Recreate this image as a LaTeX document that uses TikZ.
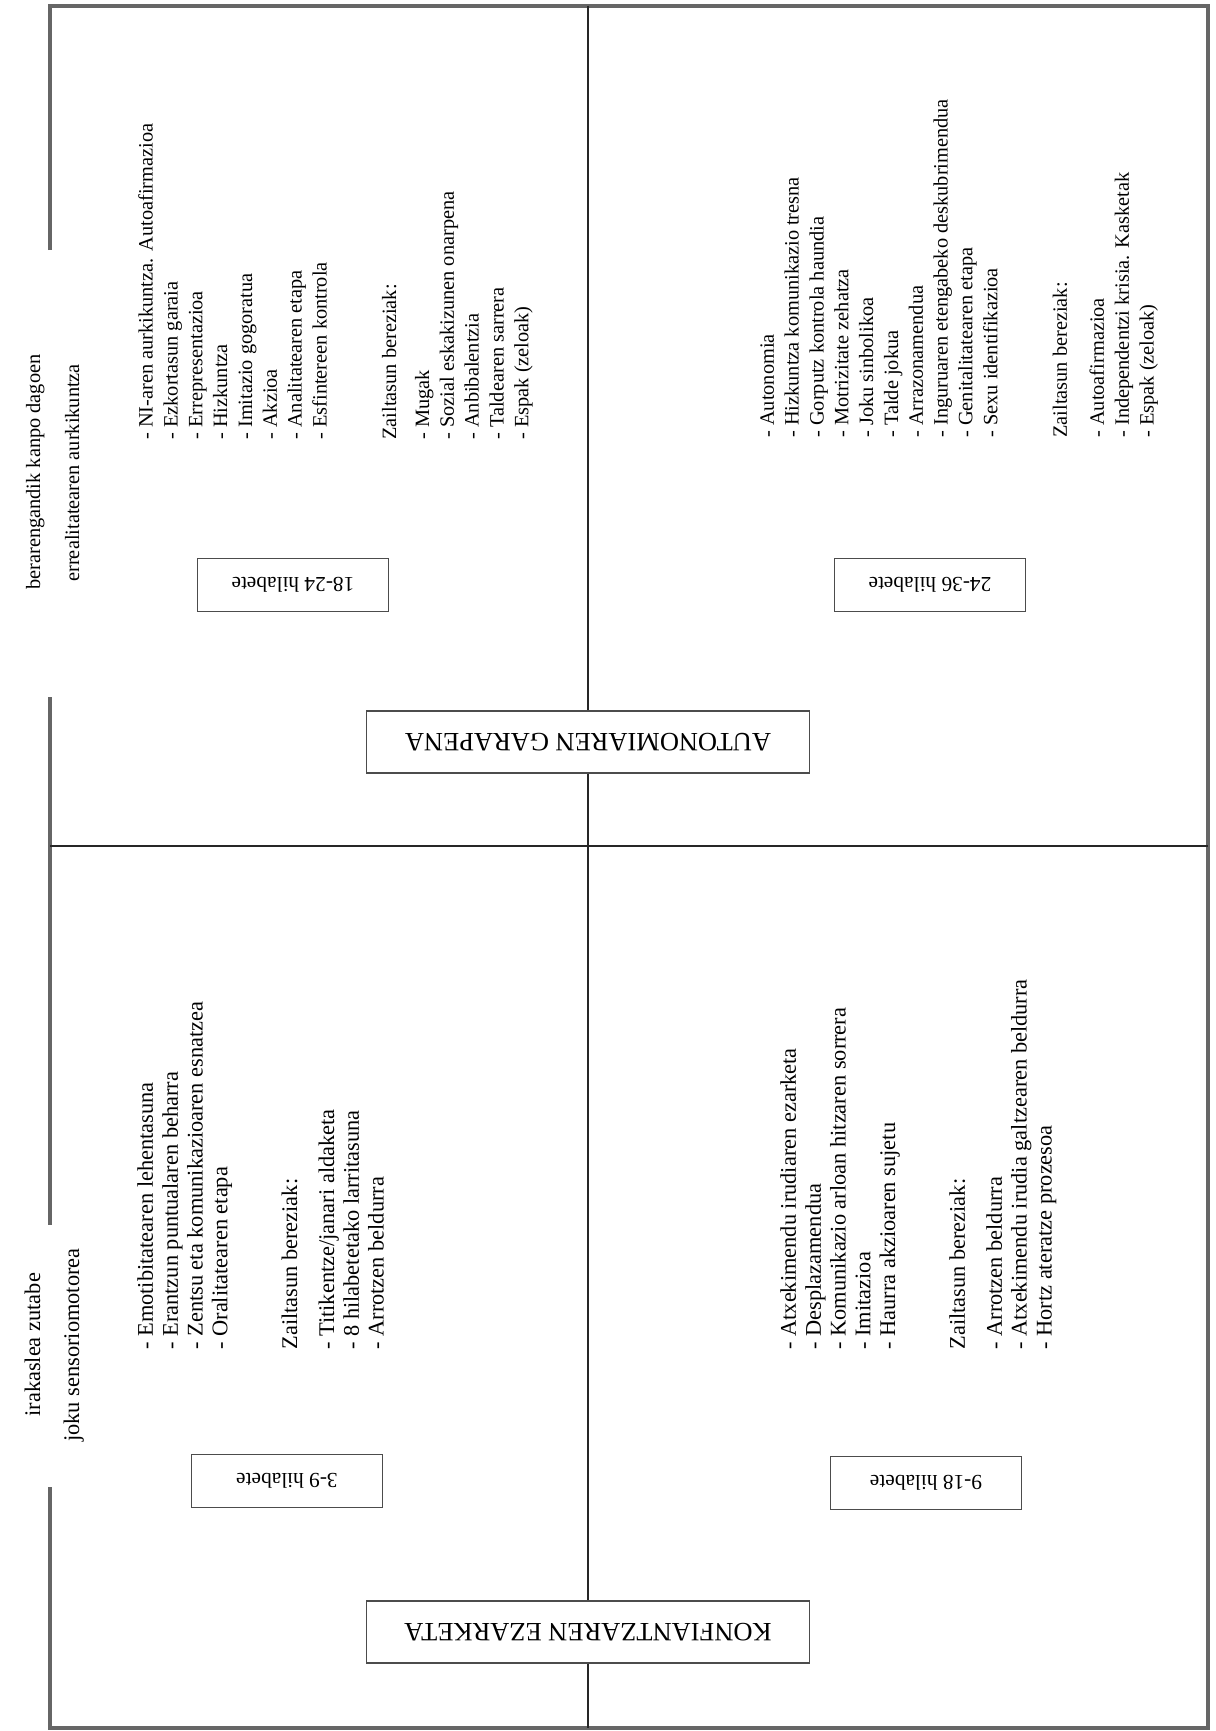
\documentclass[tikz,border=0pt]{standalone}
\usepackage{fontspec}
\setmainfont{Liberation Serif}
\begin{document}
\begin{tikzpicture}[x=0.01728cm,y=-0.01728cm]
  % Estilos para marco, cajas y listas
  \tikzset{
    frame_line/.style={line width=2.2pt,draw=black!60},
    split_line/.style={line width=0.9pt,draw=black!85},
    age_box/.style={draw=black!70,line width=0.5pt,fill=white,rotate=180,minimum width=94pt,minimum height=26.5pt,font=\fontsize{10.5}{12}\selectfont},
    title_box/.style={draw=black!70,line width=0.6pt,fill=white,rotate=180,minimum width=218pt,minimum height=30.5pt,font=\fontsize{13}{15}\selectfont},
    item_list/.style={rotate=90,anchor=north west,align=left,inner sep=0pt,font=\fontsize{10}{12.2}\selectfont},
    big_list/.style={item_list,font=\fontsize{11}{12.2}\selectfont},
    side_note/.style={rotate=90,anchor=base west,inner sep=0pt,font=\fontsize{10}{12}\selectfont},
    big_note/.style={side_note,font=\fontsize{11}{12}\selectfont}
  }
  \useasboundingbox (0,0) rectangle (1215,1731);

  % Marco exterior (abierto a la izquierda)
  \draw[frame_line] (50,250) -- (50,6) -- (1208,6) -- (1208,1728) -- (50,1728) -- (50,1487);
  \draw[frame_line] (50,697) -- (50,1225);

  % Cajas de edad y titulos
  \node[age_box] (m18) at (293,585) {18-24 hilabete};
  \node[age_box] (m24) at (930,585) {24-36 hilabete};
  \node[age_box] (m3) at (287,1481) {3-9 hilabete};
  \node[age_box] (m9) at (926,1483) {9-18 hilabete};
  \node[title_box] (auto) at (588,742) {AUTONOMIAREN GARAPENA};
  \node[title_box] (konf) at (588,1632) {KONFIANTZAREN EZARKETA};

  % Lineas de division
  \coordinate (midtop) at (588,6);
  \coordinate (midbot) at (588,1728);
  \coordinate (hleft) at (50,846);
  \coordinate (hright) at (1208,846);
  \draw[split_line] (midtop) -- (auto);
  \draw[split_line] (auto) -- (konf);
  \draw[split_line] (konf) -- (midbot);
  \draw[split_line] (hleft) -- (hright);

  % Notas del margen
  \node[side_note] (s1) at (40,590) {berarengandik kanpo dagoen};
  \node[side_note] (s2) at (79,582) {errealitatearen aurkikuntza};
  \node[big_note] (s3) at (40,1417) {irakaslea zutabe};
  \node[big_note] (s4) at (79,1442) {joku sensoriomotorea};

  % Listas de cada cuadrante
  \node[item_list] (l18) at (138,440) {- NI-aren aurkikuntza. Autoafirmazioa\\- Ezkortasun garaia\\- Errepresentazioa\\- Hizkuntza\\- Imitazio gogoratua\\- Akzioa\\- Analitatearen etapa\\- Esfintereen kontrola\\[22pt]Zailtasun bereziak:\\[4pt]- Mugak\\- Sozial eskakizunen onarpena\\- Anbibalentzia\\- Taldearen sarrera\\- Espak (zeloak)};
  \node[item_list] (l24) at (760,438) {- Autonomia\\- Hizkuntza komunikazio tresna\\- Gorputz kontrola haundia\\- Motrizitate zehatza\\- Joku sinbolikoa\\- Talde jokua\\- Arrazonamendua\\- Inguruaren etengabeko deskubrimendua\\- Genitalitatearen etapa\\- Sexu identifikazioa\\[22pt]Zailtasun bereziak:\\[6pt]- Autoafirmazioa\\- Independentzi krisia. Kasketak\\- Espak (zeloak)};
  \node[big_list] (l3) at (137,1350) {- Emotibitatearen lehentasuna\\- Erantzun puntualaren beharra\\- Zentsu eta komunikazioaren esnatzea\\- Oralitatearen etapa\\[22pt]Zailtasun bereziak:\\[6pt]- Titikentze/janari aldaketa\\- 8 hilabetetako larritasuna\\- Arrotzen beldurra};
  \node[big_list] (l9) at (780,1350) {- Atxekimendu irudiaren ezarketa\\- Desplazamendua\\- Komunikazio arloan hitzaren sorrera\\- Imitazioa\\- Haurra akzioaren sujetu\\[22pt]Zailtasun bereziak:\\[6pt]- Arrotzen beldurra\\- Atxekimendu irudia galtzearen beldurra\\- Hortz ateratze prozesoa};
\end{tikzpicture}
\end{document}
